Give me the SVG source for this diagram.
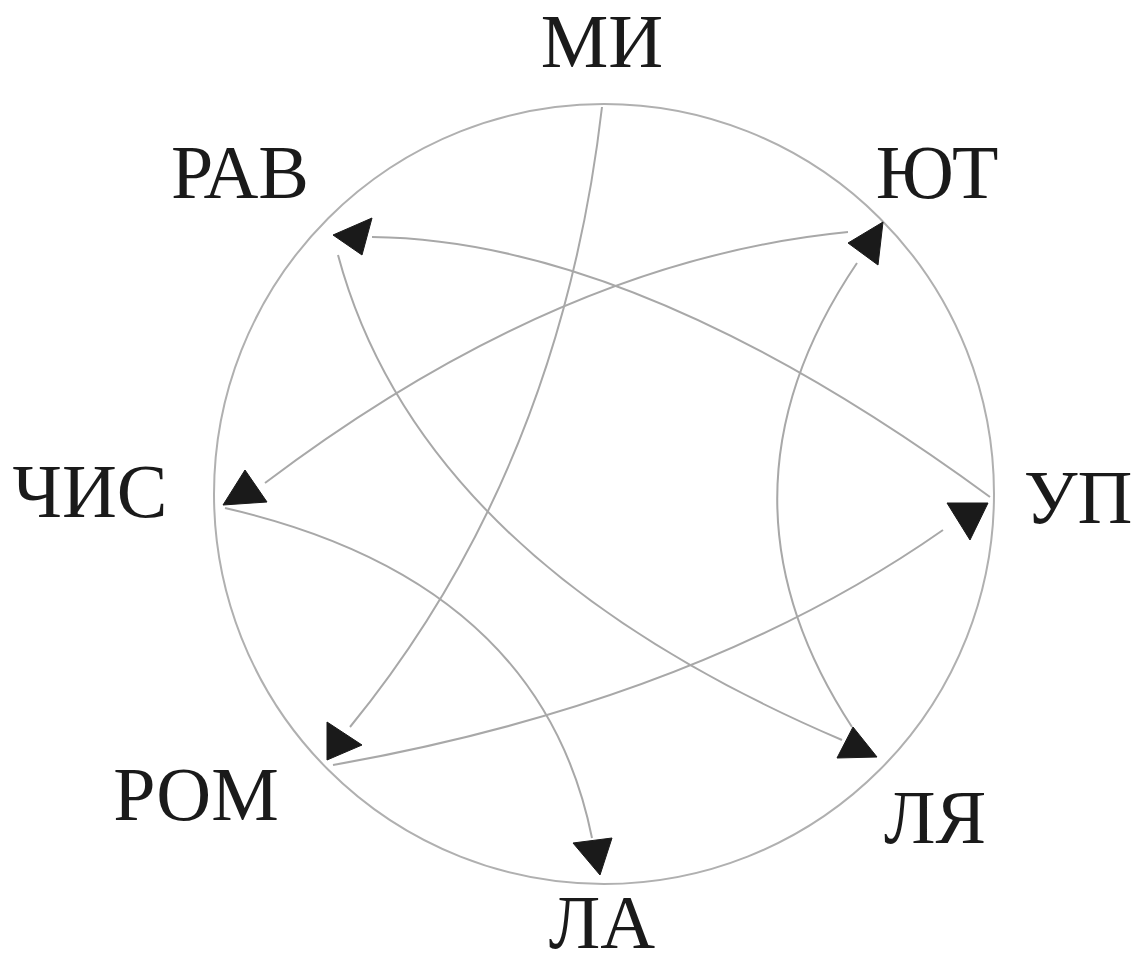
<svg xmlns="http://www.w3.org/2000/svg" width="1136" height="964" viewBox="0 0 1136 964">
  <style>
    .ring { fill: none; stroke: #b0b0b0; stroke-width: 2; }
    .edge { fill: none; stroke: #a8a8a8; stroke-width: 2; }
    .head { fill: #1a1a1a; stroke: #1a1a1a; stroke-width: 1; stroke-linejoin: round; }
    .label { font-family: "Liberation Serif", "Times New Roman", serif; font-size: 76px; fill: #1a1a1a; text-anchor: middle; }
  </style>
  <rect width="1136" height="964" fill="#ffffff"/>
  <circle class="ring" cx="604" cy="494" r="390"/>
  <g id="connectors">
    <path class="edge" d="M 990 497 Q 640 240 372 237"/>
    <polygon class="head" points="333,235 372,218 362,255"/>
    <path class="edge" d="M 338 255 Q 420 560 842 740"/>
    <polygon class="head" points="853,727 837,758 877,757"/>
    <path class="edge" d="M 852 727 Q 700 495 857 263"/>
    <polygon class="head" points="883,222 848,243 878,265"/>
    <path class="edge" d="M 848 232 Q 560 260 265 483"/>
    <polygon class="head" points="245,470 223,505 267,502"/>
    <path class="edge" d="M 225 508 Q 540 580 592 838"/>
    <polygon class="head" points="573,843 612,838 600,875"/>
    <path class="edge" d="M 602 107 Q 560 470 350 727"/>
    <polygon class="head" points="327,722 327,760 362,745"/>
    <path class="edge" d="M 333 765 Q 700 700 943 530"/>
    <polygon class="head" points="947,503 988,503 970,540"/>
  </g>
  <g id="node-mi"><text class="label" x="602" y="67">МИ</text></g>
  <g id="node-yut"><text class="label" x="937" y="198">ЮТ</text></g>
  <g id="node-up"><text class="label" x="1078" y="523">УП</text></g>
  <g id="node-lya"><text class="label" x="935" y="843">ЛЯ</text></g>
  <g id="node-la"><text class="label" x="602" y="948">ЛА</text></g>
  <g id="node-rom"><text class="label" x="196" y="820">РОМ</text></g>
  <g id="node-chis"><text class="label" x="90" y="517">ЧИС</text></g>
  <g id="node-rav"><text class="label" x="240" y="198">РАВ</text></g>
</svg>
